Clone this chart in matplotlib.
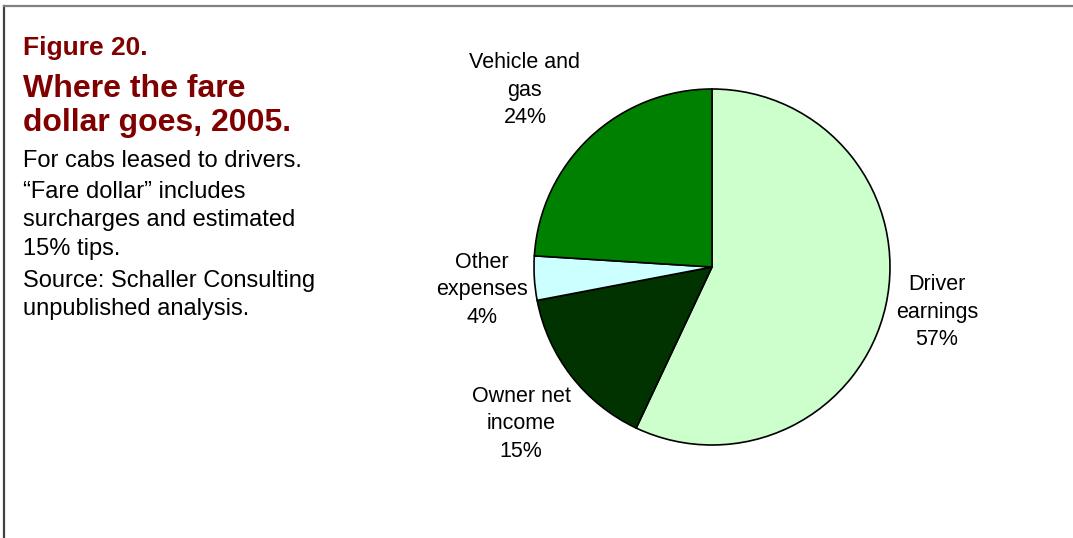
import matplotlib.pyplot as plt
from matplotlib.lines import Line2D

plt.rcParams["font.family"] = ["Liberation Sans", "DejaVu Sans"]

# Fare dollar split, clockwise from 12 o'clock
categories = ["Driver\nearnings", "Owner net\nincome", "Other\nexpenses", "Vehicle and\ngas"]
shares = [57, 15, 4, 24]
colors = ["#CCFFCC", "#003300", "#CCFFFF", "#008000"]

W, H = 1073, 538
fig = plt.figure(figsize=(W / 100, H / 100), dpi=100)

# frame lines (left and top)
fig.add_artist(Line2D([4 / W, 4 / W], [0, 1 - 6 / H], color="#404040", lw=1.6))
fig.add_artist(Line2D([4 / W, 1], [1 - 6 / H, 1 - 6 / H], color="#808080", lw=1.6))

# title block
red = "#800000"
x0 = 23 / W
def ty(px):
    return 1 - px / H
fig.text(x0, ty(55), "Figure 20.", color=red, fontsize=19, fontweight="bold", va="baseline")
fig.text(x0, ty(97), "Where the fare", color=red, fontsize=23, fontweight="bold", va="baseline")
fig.text(x0, ty(131), "dollar goes, 2005.", color=red, fontsize=23, fontweight="bold", va="baseline")
body = [("For cabs leased to drivers.", 167),
        ("\u201cFare dollar\u201d includes", 198),
        ("surcharges and estimated", 226),
        ("15% tips.", 255),
        ("Source: Schaller Consulting", 287),
        ("unpublished analysis.", 315)]
for txt, y in body:
    fig.text(x0, ty(y), txt, fontsize=17, color="black", va="baseline")

# pie
cx, cy, r = 712, 267, 178
ax = fig.add_axes([(cx - r) / W, (H - cy - r) / H, 2 * r / W, 2 * r / H])
wedges, _ = ax.pie(shares, colors=colors, startangle=90, counterclock=False,
                   radius=1, wedgeprops=dict(edgecolor="black", linewidth=1.2))
ax.set_xlim(-1, 1)
ax.set_ylim(-1, 1)
ax.set_aspect("equal")
ax.axis("off")

# label centres, in pie radii
label_pos = [(1.264, -0.253), (-1.073, -0.882), (-1.292, -0.129), (-1.051, 0.994)]
for name, val, (lx, ly) in zip(categories, shares, label_pos):
    ax.text(lx, ly, f"{name}\n{val}%", ha="center", va="center",
            fontsize=15.5, linespacing=1.42, clip_on=False)

fig.savefig("out.png", dpi=100)
